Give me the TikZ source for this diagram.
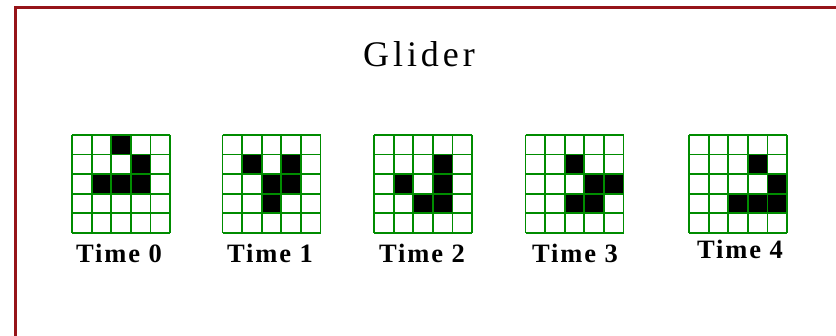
\documentclass[tikz,border=0pt]{standalone}
\usepackage{fontspec}
\setmainfont{Liberation Serif}
\definecolor{framered}{RGB}{150,20,25}
\definecolor{gridgreen}{RGB}{0,140,0}
\tikzset{
  cellline/.style={gridgreen, line width=1.8pt},
  livecell/.style={fill=black},
  timelabel/.style={font=\fontsize{26.5}{26.5}\selectfont\bfseries\addfontfeature{LetterSpace=7}, anchor=base, inner sep=0pt},
  titlelabel/.style={font=\fontsize{36}{36}\selectfont\addfontfeature{LetterSpace=11}, anchor=base, inner sep=0pt}
}
\begin{document}
\begin{tikzpicture}[x=1pt,y=-1pt]
\useasboundingbox (0,0) rectangle (836,336);
\fill[white] (0,0) rectangle (836,336);
\draw[framered, line width=2.2pt] (15.5,336) -- (15.5,7.5) -- (836,7.5);
\node[titlelabel] (title) at (419,67) {Glider};
\def\cs{19.6}
\foreach \gx/\cells/\lab/\lx/\ly in {
  72/{2/0,3/1,1/2,2/2,3/2}/0/119/263,
  222.5/{1/1,3/1,2/2,3/2,2/3}/1/270/263,
  374/{3/1,1/2,3/2,2/3,3/3}/2/422/263,
  525.5/{2/1,3/2,4/2,2/3,3/3}/3/575/263,
  689/{3/1,4/2,2/3,3/3,4/3}/4/740/259}{
  \begin{scope}[shift={(\gx,135)}]
    \foreach \c/\r in \cells {
      \fill[livecell] (\c*\cs,\r*\cs) rectangle ++(\cs,\cs);
    }
    \foreach \i in {0,...,5} {
      \draw[cellline] (\i*\cs,0) -- (\i*\cs,5*\cs);
      \draw[cellline] (0,\i*\cs) -- (5*\cs,\i*\cs);
    }
  \end{scope}
  \node[timelabel] (time\lab) at (\lx,\ly) {Time \lab};
}
\end{tikzpicture}
\end{document}
